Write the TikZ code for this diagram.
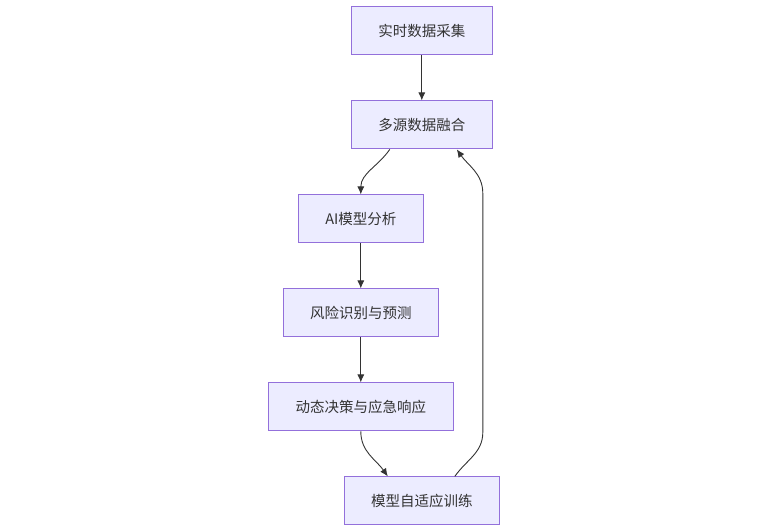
\documentclass[tikz,border=0pt]{standalone}
\usepackage{fontspec}
\newfontfamily\cjk{Noto Sans CJK SC}
\usetikzlibrary{positioning,arrows.meta}
\definecolor{boxfill}{HTML}{ECECFF}
\definecolor{boxline}{HTML}{9370DB}
\definecolor{ink}{HTML}{333333}
\begin{document}
\begin{tikzpicture}[
  x=1pt,y=1pt,
  node distance=45pt and 45pt,
  stepbox/.style={draw=boxline,fill=boxfill,line width=1pt,rectangle,
    minimum height=48pt,inner xsep=27pt,text=ink,
    font=\cjk\fontsize{14.5}{16}\selectfont},
  flow/.style={draw=ink,line width=0.9pt,-{Latex[length=8pt,width=7pt]}}
]
\useasboundingbox (0,0) rectangle (768,-532);

\node[stepbox] (collect) at (421.8,-30.9) {实时数据采集};
\node[stepbox,below=of collect] (fuse) {多源数据融合};
\node[stepbox,below=of fuse,xshift=-61pt] (analyse) {AI模型分析};
\node[stepbox,below=of analyse] (risk) {风险识别与预测};
\node[stepbox,below=of risk] (decide) {动态决策与应急响应};
\node[stepbox,below=of decide,xshift=61pt] (train) {模型自适应训练};

\path (collect) edge[flow] (fuse)
(analyse) edge[flow] (risk)
(risk) edge[flow] (decide);
\draw[flow] ([xshift=-32pt]fuse.south) to[out=-125,in=90] (analyse.north);
\draw[flow] (decide.south) to[out=-90,in=125] ([xshift=-34pt]train.north);
\draw[flow] ([xshift=33pt]train.north) to[out=55,in=-90] ([xshift=61pt,yshift=44pt]train.north)
  -- ([xshift=61pt,yshift=-44pt]fuse.south) to[out=90,in=-55] ([xshift=35pt]fuse.south);
\end{tikzpicture}
\end{document}
